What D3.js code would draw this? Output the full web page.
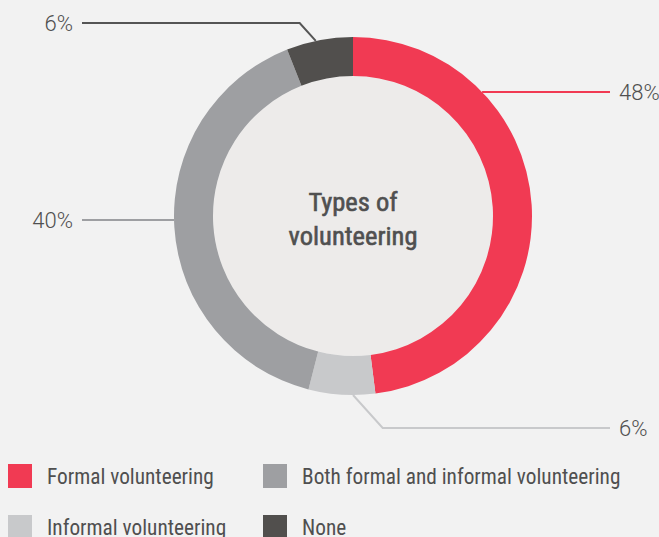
<!DOCTYPE html>
<meta charset="utf-8">
<script src="https://d3js.org/d3.v7.min.js"></script>
<style>
  body { margin: 0; background: #f2f2f2; }
  text { font-family: "Roboto Condensed", "Liberation Sans Narrow", Roboto, sans-serif; fill: #4f4f4f; }
  text.pct { font-family: Roboto, "Liberation Sans", sans-serif; }
</style>
<div id="my_dataviz"></div>
<script>
  // data
  var categories = ["Formal volunteering", "Informal volunteering", "Both formal and informal volunteering", "None"];
  var values = [48, 6, 40, 6];
  var labels = ["48%", "6%", "40%", "6%"];
  var colors = ["#f13a53", "#c8c9cb", "#9e9fa2", "#514f4d"];
  var legendOrder = [0, 2, 1, 3];

  var width = 659, height = 537;
  var cx = 353, cy = 216, outerR = 179, innerR = 140;

  var svg = d3.select("#my_dataviz")
    .append("svg")
    .attr("width", width)
    .attr("height", height);

  svg.append("rect").attr("width", width).attr("height", height).attr("fill", "#f2f2f2");

  var g = svg.append("g").attr("transform", "translate(" + cx + "," + cy + ")");

  var pie = d3.pie().sort(null).value(function(d) { return d; });
  var arcs = pie(values);
  var arc = d3.arc().innerRadius(innerR).outerRadius(outerR);

  g.append("circle").attr("r", innerR).attr("fill", "#edebea");

  g.selectAll("path.slice")
    .data(arcs)
    .enter()
    .append("path")
    .attr("class", "slice")
    .attr("d", arc)
    .attr("fill", function(d, i) { return colors[i]; });

  // centre title (a thin stroke gives the medium weight)
  var title = g.append("text").attr("text-anchor", "middle")
    .style("font-size", "26.5px").style("font-weight", "400").style("fill", "#505050")
    .style("stroke", "#505050").style("stroke-width", "0.6px");
  title.append("tspan").attr("x", 0).attr("y", -5).text("Types of");
  title.append("tspan").attr("x", 0).attr("y", 29).text("volunteering");

  // leader lines: label row y, side, optional elbow anchor angle (deg)
  var leaders = [
    { y: 92, side: 1 },
    { y: 428, side: 1, angle: 180 },
    { y: 220, side: -1 },
    { y: 23, side: -1, angle: -12 }
  ];
  var rightEnd = 610, leftEnd = 82;

  arcs.forEach(function(d, i) {
    var L = leaders[i];
    var pts;
    var ly = L.y - cy;
    var endX = (L.side > 0 ? rightEnd : leftEnd) - cx;
    if (L.angle !== undefined) {
      var a = L.angle * Math.PI / 180;
      var ax = outerR * Math.sin(a), ay = -outerR * Math.cos(a);
      var ex = ax + L.side * Math.abs(ly - ay) * 0.9;
      pts = [[ax, ay], [ex, ly], [endX, ly]];
    } else {
      var ax2 = L.side * Math.sqrt(outerR * outerR - ly * ly);
      pts = [[ax2, ly], [endX, ly]];
    }
    g.append("path")
      .attr("d", d3.line()(pts))
      .attr("fill", "none")
      .attr("stroke", i === 3 ? "#555" : colors[i])
      .attr("stroke-width", 2);
    g.append("text")
      .attr("class", "pct")
      .attr("x", endX + L.side * 9)
      .attr("y", ly + 8)
      .attr("text-anchor", L.side > 0 ? "start" : "end")
      .style("font-size", "22px")
      .style("font-weight", "300")
      .text(labels[i]);
  });

  // legend
  var legend = svg.append("g");
  legendOrder.forEach(function(ci, k) {
    var col = k % 2, row = Math.floor(k / 2);
    var x = col === 0 ? 8 : 263, y = row === 0 ? 464 : 515;
    legend.append("rect")
      .attr("x", x).attr("y", y)
      .attr("width", 24).attr("height", 24)
      .attr("fill", colors[ci]);
    legend.append("text")
      .attr("x", x + 39).attr("y", y + 20)
      .style("font-size", "21.3px")
      .text(categories[ci]);
  });
</script>
